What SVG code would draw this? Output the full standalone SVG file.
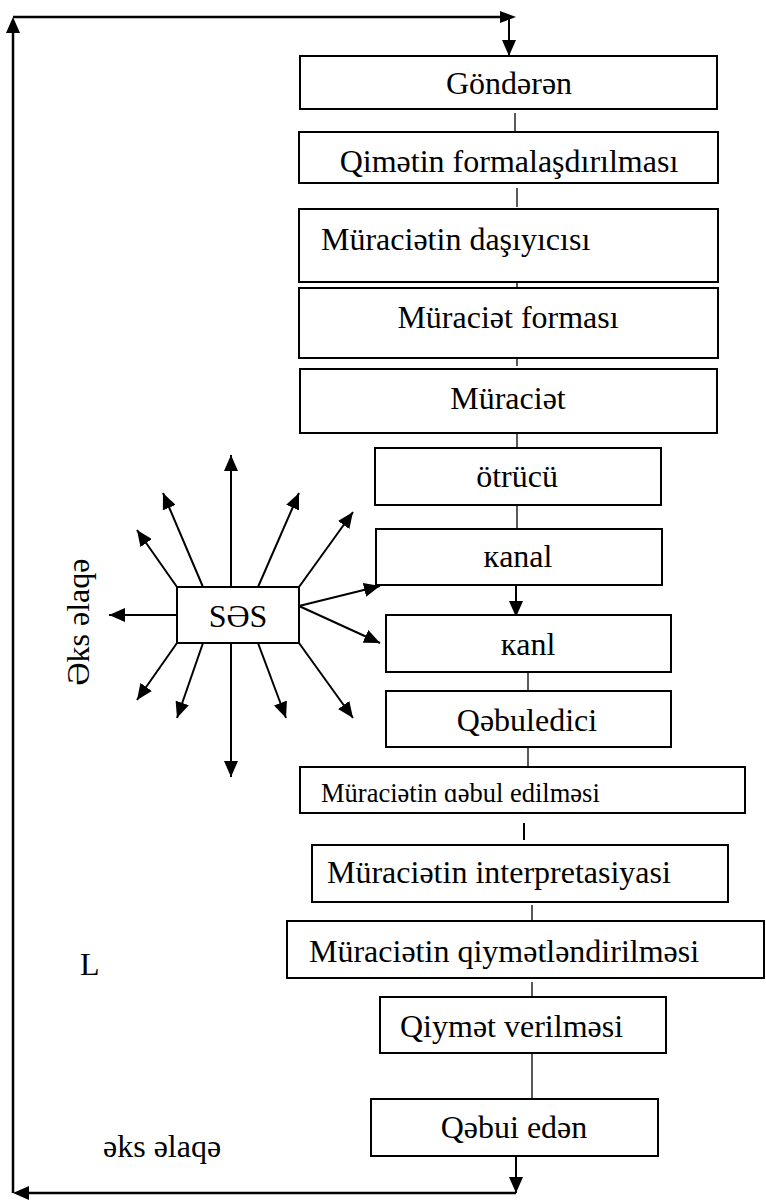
<svg xmlns="http://www.w3.org/2000/svg" width="766" height="1201" viewBox="0 0 766 1201">
  <style>
    .box { fill: #ffffff; stroke: #000000; stroke-width: 2; }
    .t { font-family: "Liberation Serif", "DejaVu Serif", "Times New Roman", serif; font-size: 32px; fill: #000000; }
    .c { text-anchor: middle; }
    .link { stroke: #000000; stroke-width: 1.3; fill: none; }
    .arr { stroke: #000000; stroke-width: 2; fill: none; marker-end: url(#head); }
    .loop { stroke: #000000; stroke-width: 2.5; fill: none; }
  </style>
  <defs>
    <marker id="head" markerUnits="userSpaceOnUse" markerWidth="16" markerHeight="14" refX="16" refY="7" orient="auto">
      <path d="M0,0 L16,7 L0,14 z" fill="#000000"/>
    </marker>
  </defs>

  <rect width="766" height="1201" fill="#ffffff"/>

  <!-- connectors -->
  <g id="connectors">
    <!-- feedback loop -->
    <polyline class="loop" points="516,1193 28,1193"/>
    <path d="M13,1193 L29,1186 L29,1200 z" fill="#000"/>
    <polyline class="loop" points="13,1193 13,33"/>
    <path d="M13,17 L6,33 L20,33 z" fill="#000"/>
    <polyline class="loop" points="13,17 500,17"/>
    <path d="M516,17 L500,11 L500,23 z" fill="#000"/>
    <line class="arr" x1="509" y1="17" x2="509" y2="56"/>

    <!-- chain links -->
    <line class="link" x1="515" y1="113" x2="515" y2="132"/>
    <line class="link" x1="517" y1="188" x2="517" y2="207"/>
    <line class="link" x1="517" y1="267" x2="517" y2="287"/>
    <line class="link" x1="517" y1="347" x2="517" y2="366"/>
    <line class="link" x1="517" y1="427" x2="517" y2="448"/>
    <line class="link" x1="517" y1="505" x2="517" y2="529"/>
    <line class="arr" x1="516" y1="585" x2="516" y2="617"/>
    <line class="link" x1="528" y1="672" x2="528" y2="691"/>
    <line class="link" x1="528" y1="747" x2="528" y2="767"/>
    <line class="link" x1="524" y1="823" x2="524" y2="840" style="stroke-width:2"/>
    <line class="link" x1="532" y1="905" x2="532" y2="923"/>
    <line class="link" x1="532" y1="982" x2="532" y2="1000"/>
    <line class="link" x1="532" y1="1050" x2="532" y2="1099"/>
    <line class="arr" x1="516" y1="1156" x2="516" y2="1193"/>

    <!-- noise rays -->
    <line class="arr" x1="231" y1="587" x2="231" y2="455"/>
    <line class="arr" x1="231" y1="643" x2="231" y2="777"/>
    <line class="arr" x1="177" y1="615" x2="109" y2="615"/>
    <line class="arr" x1="177" y1="587" x2="137" y2="530"/>
    <line class="arr" x1="203" y1="587" x2="163" y2="493"/>
    <line class="arr" x1="258" y1="587" x2="299" y2="493"/>
    <line class="arr" x1="299" y1="587" x2="353" y2="512"/>
    <line class="arr" x1="299" y1="606" x2="380" y2="586"/>
    <line class="arr" x1="299" y1="606" x2="380" y2="643"/>
    <line class="arr" x1="177" y1="643" x2="137" y2="700"/>
    <line class="arr" x1="203" y1="643" x2="177" y2="718"/>
    <line class="arr" x1="258" y1="643" x2="286" y2="718"/>
    <line class="arr" x1="299" y1="643" x2="353" y2="718"/>
  </g>

  <g id="gonderen">
    <rect class="box" x="300" y="56" width="417" height="53"/>
    <text class="t c" x="509" y="94">Göndərən</text>
  </g>
  <g id="qimetin">
    <rect class="box" x="299" y="132" width="419" height="51"/>
    <text class="t c" x="509" y="172">Qimətin formalaşdırılması</text>
  </g>
  <g id="dasiyici">
    <rect class="box" x="299" y="209" width="419" height="73"/>
    <text class="t" x="321" y="250">Müraciətin daşıyıcısı</text>
  </g>
  <g id="forma">
    <rect class="box" x="299" y="288" width="419" height="70"/>
    <text class="t c" x="508" y="328">Müraciət forması</text>
  </g>
  <g id="muraciet">
    <rect class="box" x="300" y="369" width="417" height="64"/>
    <text class="t c" x="508" y="409">Müraciət</text>
  </g>
  <g id="otrucu">
    <rect class="box" x="375" y="448" width="286" height="57"/>
    <text class="t c" x="517" y="487">ötrücü</text>
  </g>
  <g id="kanal">
    <rect class="box" x="376" y="529" width="286" height="56"/>
    <text class="t c" x="518" y="567">кanal</text>
  </g>
  <g id="kanl">
    <rect class="box" x="386" y="615" width="285" height="57"/>
    <text class="t c" x="528" y="655">кanl</text>
  </g>
  <g id="qebuledici">
    <rect class="box" x="386" y="691" width="285" height="56"/>
    <text class="t c" x="527" y="731">Qəbuledici</text>
  </g>
  <g id="qebul-edilmesi">
    <rect class="box" x="300" y="767" width="445" height="46"/>
    <text class="t" x="321" y="802" style="font-size:26.5px">Müraciətin ɑəbul edilməsi</text>
  </g>
  <g id="interpretasiya">
    <rect class="box" x="312" y="845" width="416" height="57"/>
    <text class="t" x="327" y="883">Müraciətin interpretasiyasi</text>
  </g>
  <g id="qiymetlendirme">
    <rect class="box" x="287" y="921" width="477" height="57"/>
    <text class="t" x="309" y="962">Müraciətin qiymətləndirilməsi</text>
  </g>
  <g id="qiymet-verilmesi">
    <rect class="box" x="380" y="997" width="286" height="56"/>
    <text class="t" x="400" y="1037">Qiymət verilməsi</text>
  </g>
  <g id="qebul-eden">
    <rect class="box" x="371" y="1099" width="287" height="57"/>
    <text class="t c" x="514" y="1138">Qəbui edən</text>
  </g>
  <g id="ses">
    <rect class="box" x="177" y="587" width="122" height="56"/>
    <text class="t c" x="238" y="627">SƏS</text>
  </g>

  <!-- free labels -->
  <text class="t c" x="0" y="0" transform="translate(89,622) rotate(-90)">Əks əlaqə</text>
  <text class="t" x="80" y="975">L</text>
  <text class="t" x="103" y="1157">əks əlaqə</text>
</svg>
